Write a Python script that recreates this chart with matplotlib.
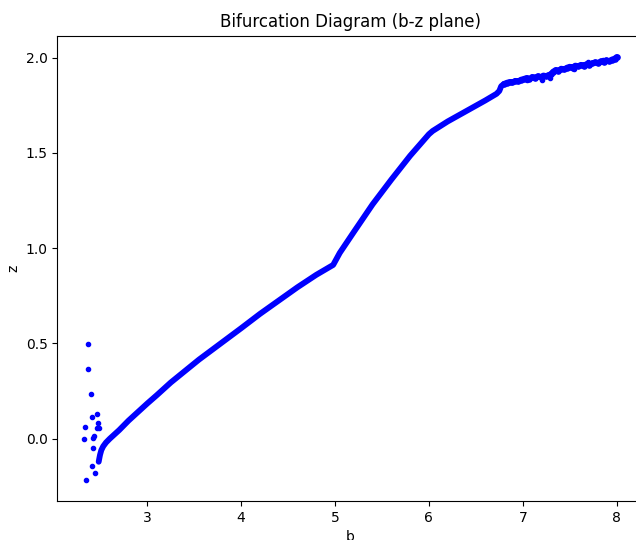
import matplotlib
matplotlib.use('Agg')
import matplotlib.pyplot as plt

# pontos soltos perto de b ~ 2.4
b_soltos = [2.365, 2.371, 2.397, 2.408, 2.461, 2.472, 2.461, 2.482, 2.333, 2.326,
            2.435, 2.425, 2.421, 2.414, 2.446, 2.347]
z_soltos = [0.496, 0.367, 0.235, 0.115, 0.130, 0.081, 0.055, 0.055, 0.060, 0.000,
            0.016, 0.002, -0.050, -0.143, -0.180, -0.218]

# ramo principal
b_ramo = [2.482, 2.488, 2.496, 2.51, 2.53, 2.56, 2.60, 2.70, 2.80, 2.90, 3.00, 3.10,
          3.25, 3.40, 3.55, 3.70, 3.85, 4.00, 4.20, 4.40, 4.60, 4.80, 4.98, 5.05,
          5.20, 5.40, 5.60, 5.80, 6.00, 6.04, 6.20, 6.40, 6.60, 6.72, 6.75, 6.77, 6.80]
z_ramo = [-0.121, -0.105, -0.085, -0.06, -0.04, -0.02, 0.0, 0.045, 0.095, 0.14, 0.185, 0.228,
          0.295, 0.355, 0.415, 0.47, 0.525, 0.58, 0.655, 0.725, 0.795, 0.86, 0.912, 0.975,
          1.085, 1.23, 1.36, 1.485, 1.598, 1.615, 1.665, 1.72, 1.775, 1.81, 1.825, 1.85, 1.862]

# parte ruidosa final
b_cauda = [6.80, 6.83, 6.86, 6.89, 6.92, 6.95, 6.98, 7.01, 7.04, 7.07, 7.10, 7.13, 7.16, 7.19,
           7.22, 7.25, 7.28, 7.30, 7.32, 7.35, 7.38, 7.41, 7.44, 7.47, 7.50, 7.53, 7.56, 7.59,
           7.62, 7.65, 7.68, 7.71, 7.74, 7.77, 7.80, 7.83, 7.86, 7.89, 7.92, 7.95, 7.98, 8.00]
z_cauda = [1.862, 1.868, 1.872, 1.870, 1.878, 1.875, 1.884, 1.888, 1.893, 1.887, 1.898, 1.895,
           1.902, 1.897, 1.906, 1.903, 1.910, 1.912, 1.925, 1.935, 1.930, 1.942, 1.938, 1.947,
           1.952, 1.948, 1.958, 1.955, 1.962, 1.958, 1.966, 1.962, 1.970, 1.975, 1.972, 1.980,
           1.976, 1.985, 1.982, 1.990, 1.995, 2.003]
b_extra = [7.29, 7.20, 7.05, 7.55, 7.85, 7.70]
z_extra = [1.895, 1.885, 1.880, 1.940, 1.990, 1.978]

fig = plt.figure(figsize=(6.36, 5.40), dpi=100)
ax = fig.add_axes([0.0901, 0.0722, 0.9208, 0.8617])

ax.plot(b_soltos, z_soltos, 'b.', markersize=6)
ax.plot(b_ramo, z_ramo, 'b-', linewidth=4.2, solid_capstyle='round', solid_joinstyle='round')
ax.plot(b_cauda, z_cauda, 'b-', linewidth=4.2, solid_capstyle='round')
ax.plot(b_cauda, z_cauda, 'b.', markersize=7.5)
ax.plot(b_extra, z_extra, 'b.', markersize=6)

ax.set_xlim(2.041, 8.28)
ax.set_ylim(-0.327, 2.115)
ax.set_title('Bifurcation Diagram (b-z plane)')
ax.set_xlabel('b')
ax.set_ylabel('z')

fig.savefig('out.png', dpi=100)
